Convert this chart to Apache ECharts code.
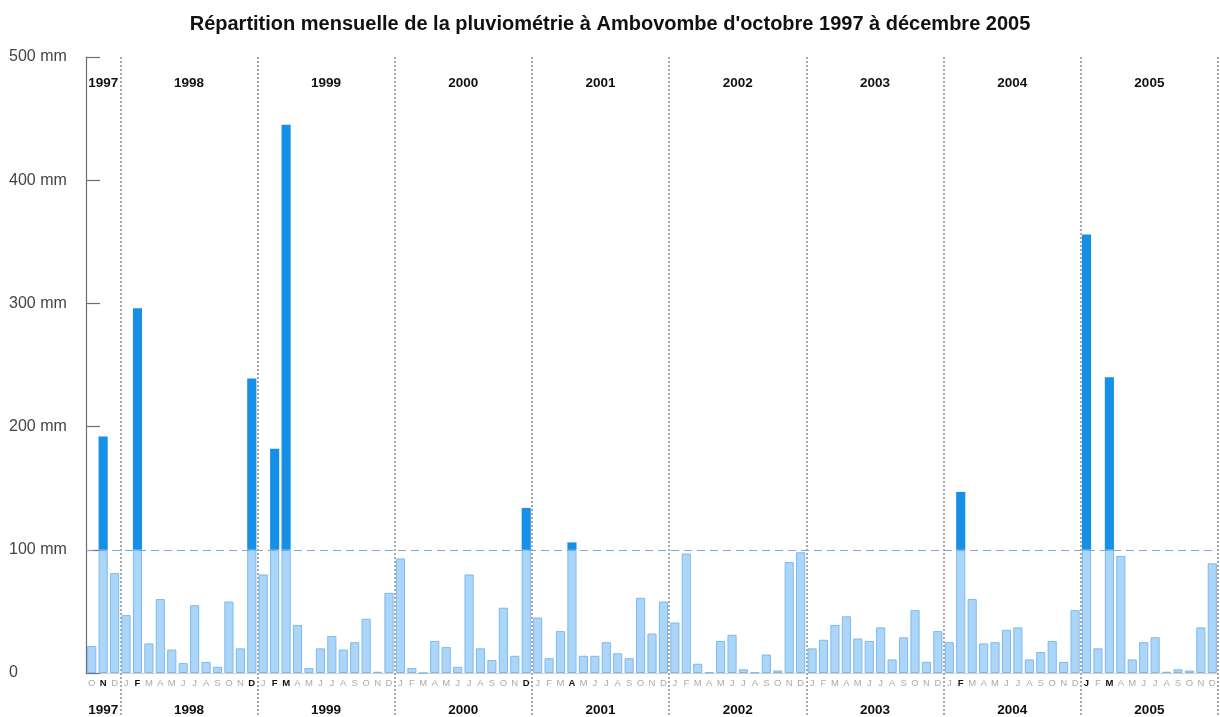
<!DOCTYPE html>
<html>
<head>
<meta charset="utf-8">
<script src="https://cdn.jsdelivr.net/npm/echarts@6/dist/echarts.min.js"></script>
<style>
html,body{margin:0;padding:0;background:#fff;}
#chart{width:1220px;height:717px;}
</style>
</head>
<body>
<div id="chart"></div>
<script>
// ---- data (mm per month) ----
const years = [1997, 1998, 1999, 2000, 2001, 2002, 2003, 2004, 2005];
const monthLetters = ['J','F','M','A','M','J','J','A','S','O','N','D'];
const firstMonthIndex = 9; // October 1997
const rain1997 = [22, 192, 81];
const rain1998 = [47, 296, 24, 60, 19, 8, 55, 9, 5, 58, 20, 239];
const rain1999 = [80, 182, 445, 39, 4, 20, 30, 19, 25, 44, 1, 65];
const rain2000 = [93, 4, 0, 26, 21, 5, 80, 20, 10.5, 53, 14, 134];
const rain2001 = [45, 12, 34, 106, 14, 14, 25, 16, 12, 61, 32, 58];
const rain2002 = [41, 97, 7.5, 0.5, 26, 31, 3, 0.5, 15, 2, 90, 98];
const rain2003 = [20, 27, 39, 46, 28, 26, 37, 11, 29, 51, 9, 34];
const rain2004 = [25, 147, 60, 24, 25, 35, 37, 11, 17, 26, 9, 51];
const rain2005 = [356, 20, 240, 95, 11, 25, 29, 1, 3, 2, 37, 89];
const yTicks = ['0', '100 mm', '200 mm', '300 mm', '400 mm', '500 mm'];
const threshold = 100;
const titleText = "Répartition mensuelle de la pluviométrie à Ambovombe d'octobre 1997 à décembre 2005";

// ---- build ----
const rainByYear = [rain1997, rain1998, rain1999, rain2000, rain2001, rain2002, rain2003, rain2004, rain2005];
const categories = [], letters = [], rainfall = [];
const yearStart = [], yearCount = [];
rainByYear.forEach((arr, yi) => {
  yearStart.push(rainfall.length);
  yearCount.push(arr.length);
  const m0 = yi === 0 ? firstMonthIndex : 0;
  arr.forEach((v, k) => {
    const m = m0 + k;
    categories.push(years[yi] + '-' + (m + 1));
    letters.push(monthLetters[m]);
    rainfall.push(v);
  });
});
const lowPart = rainfall.map(v => Math.min(v, threshold));
const highPart = rainfall.map(v => v > threshold ? v - threshold : null);

const isBoundary = i => i > 0 && yearStart.indexOf(i) >= 0;
const yearLabelAt = {};
yearStart.forEach((s, yi) => {
  const n = yearCount[yi];
  if (n % 2 === 1) yearLabelAt[s + (n - 1) / 2] = {year: years[yi], even: false};
  else yearLabelAt[s + n / 2 - 1] = {year: years[yi], even: true};
});
const yearInterval = i => yearLabelAt[i] !== undefined;
const yearFormatter = (v, i) => {
  const e = yearLabelAt[i];
  if (!e) return '';
  return (e.even ? '{e|' : '{o|') + e.year + '}';
};

const FONT = 'Liberation Sans, Arial, sans-serif';
const dotted = {color: '#a8a8a8', type: [2, 2], width: 2};
const yearRich = {
  o: {fontFamily: FONT, fontWeight: 'bold', fontSize: 13.5, color: '#111'},
  e: {fontFamily: FONT, fontWeight: 'bold', fontSize: 13.5, color: '#111', padding: [0, 0, 0, 11.4]}
};

const chart = echarts.init(document.getElementById('chart'), null, {renderer: 'canvas'});
chart.setOption({
  backgroundColor: '#ffffff',
  animation: false,
  title: {
    text: titleText,
    left: 'center',
    top: 9,
    textStyle: {fontFamily: FONT, fontSize: 20, fontWeight: 'bold', color: '#111'}
  },
  grid: {left: 86, right: 2, top: 57, bottom: 43},
  xAxis: [
    {
      type: 'category',
      data: categories,
      gridIndex: 0,
      axisLine: {show: true, lineStyle: {color: '#d0d0d0'}},
      axisTick: {show: false},
      splitLine: {show: true, interval: isBoundary, lineStyle: dotted},
      axisLabel: {
        interval: 0,
        margin: 5,
        formatter: (v, i) => (rainfall[i] > threshold ? '{b|' : '{n|') + letters[i] + '}',
        rich: {
          n: {fontFamily: FONT, fontSize: 9.5, color: '#ababab'},
          b: {fontFamily: FONT, fontSize: 9.5, fontWeight: 'bold', color: '#111'}
        }
      }
    },
    {
      type: 'category',
      data: categories,
      gridIndex: 0,
      position: 'bottom',
      axisLine: {show: false},
      axisTick: {show: true, interval: isBoundary, length: 43, lineStyle: dotted},
      axisLabel: {interval: yearInterval, margin: 30, formatter: yearFormatter, rich: yearRich}
    },
    {
      type: 'category',
      data: categories,
      gridIndex: 0,
      position: 'top',
      axisLine: {show: false},
      axisTick: {show: false},
      axisLabel: {inside: true, interval: yearInterval, margin: 19, formatter: yearFormatter, rich: yearRich}
    }
  ],
  yAxis: {
    type: 'value',
    min: 0,
    max: 500,
    interval: 100,
    axisLine: {show: true, lineStyle: {color: '#6e6e6e', width: 1.2}},
    axisTick: {show: true, inside: true, length: 14, lineStyle: {color: '#6e6e6e', width: 1.2}},
    splitLine: {show: false},
    axisLabel: {
      align: 'left',
      margin: 77,
      padding: [0, 0, 14, 0],
      fontFamily: FONT,
      fontSize: 16,
      color: '#444',
      formatter: v => yTicks[Math.round(v / 100)]
    }
  },
  series: [
    {
      name: 'low',
      type: 'bar',
      stack: 'rain',
      xAxisIndex: 0,
      data: lowPart,
      barWidth: '80%',
      itemStyle: {color: '#acd6f9', borderColor: '#7cb9ef', borderWidth: 1}
    },
    {
      name: 'high',
      type: 'bar',
      stack: 'rain',
      xAxisIndex: 0,
      data: highPart,
      barWidth: '80%',
      itemStyle: {color: '#1590e6'},
      markLine: {
        silent: true,
        symbol: 'none',
        label: {show: false},
        lineStyle: {color: '#7aa8da', type: [8, 5], width: 1.2},
        data: [{yAxis: threshold}]
      }
    }
  ]
});
</script>
</body>
</html>
